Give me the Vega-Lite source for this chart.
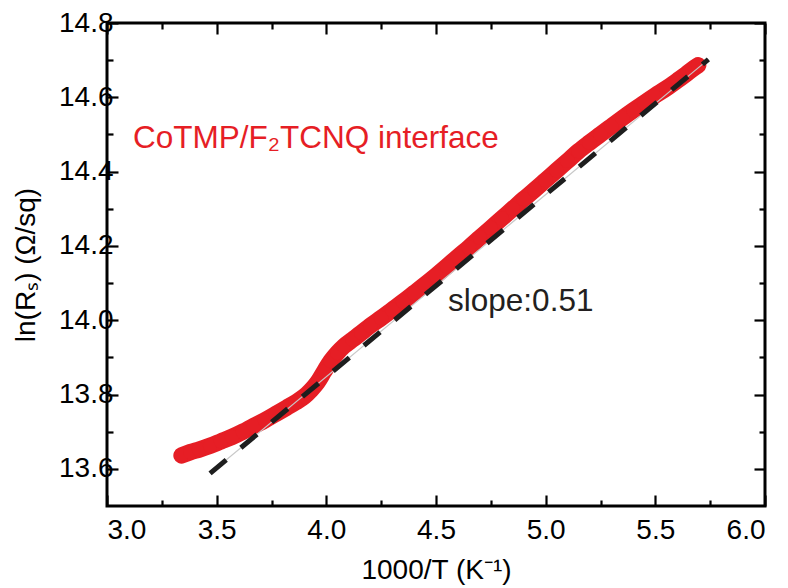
{
  "$schema": "https://vega.github.io/schema/vega-lite/v6.json",
  "width": 658,
  "height": 483,
  "autosize": {"type": "none"},
  "padding": {"left": 107, "top": 23, "right": 23, "bottom": 82},
  "background": "white",
  "config": {
    "view": {"stroke": "black", "strokeWidth": 3},
    "style": {"guide-label": {"fontSize": 22, "font": "Liberation Sans", "fill": "black"}, "guide-title": {"fontSize": 28, "font": "Liberation Sans", "fill": "black"}},
    "axis": {
      "domain": false,
      "grid": false,
      "tickColor": "black",
      "tickWidth": 2.2,
      "labelFont": "Liberation Sans",
      "labelFontSize": 22,
      "labelColor": "black",
      "titleFont": "Liberation Sans",
      "titleFontSize": 28,
      "titleFontWeight": "normal",
      "titleColor": "black"
    }
  },
  "datasets": {
    "curve": [
      {"x": 3.34, "y": 13.636}, {"x": 3.38, "y": 13.645}, {"x": 3.42, "y": 13.652},
      {"x": 3.47, "y": 13.662}, {"x": 3.52, "y": 13.674}, {"x": 3.57, "y": 13.686},
      {"x": 3.62, "y": 13.700}, {"x": 3.67, "y": 13.716}, {"x": 3.72, "y": 13.731},
      {"x": 3.77, "y": 13.748}, {"x": 3.82, "y": 13.765}, {"x": 3.86, "y": 13.779},
      {"x": 3.90, "y": 13.795}, {"x": 3.93, "y": 13.812}, {"x": 3.96, "y": 13.833},
      {"x": 3.99, "y": 13.862}, {"x": 4.02, "y": 13.890}, {"x": 4.05, "y": 13.912},
      {"x": 4.08, "y": 13.930}, {"x": 4.12, "y": 13.948}, {"x": 4.16, "y": 13.966},
      {"x": 4.20, "y": 13.985}, {"x": 4.25, "y": 14.006}, {"x": 4.30, "y": 14.028},
      {"x": 4.35, "y": 14.050}, {"x": 4.40, "y": 14.073}, {"x": 4.45, "y": 14.096},
      {"x": 4.50, "y": 14.120}, {"x": 4.55, "y": 14.145}, {"x": 4.60, "y": 14.171},
      {"x": 4.65, "y": 14.196}, {"x": 4.70, "y": 14.222}, {"x": 4.75, "y": 14.248},
      {"x": 4.80, "y": 14.274}, {"x": 4.85, "y": 14.300}, {"x": 4.90, "y": 14.326},
      {"x": 4.95, "y": 14.351}, {"x": 5.00, "y": 14.377}, {"x": 5.05, "y": 14.403},
      {"x": 5.10, "y": 14.429}, {"x": 5.15, "y": 14.455}, {"x": 5.20, "y": 14.478},
      {"x": 5.25, "y": 14.500}, {"x": 5.30, "y": 14.522}, {"x": 5.35, "y": 14.544},
      {"x": 5.40, "y": 14.565}, {"x": 5.45, "y": 14.585}, {"x": 5.50, "y": 14.605},
      {"x": 5.55, "y": 14.624}, {"x": 5.60, "y": 14.645}, {"x": 5.64, "y": 14.662},
      {"x": 5.67, "y": 14.676}, {"x": 5.695, "y": 14.686}
    ],
    "fit": [
      {"x": 3.47, "y": 13.588},
      {"x": 5.742, "y": 14.702}
    ]
  },
  "layer": [
    {
      "data": {"name": "curve"},
      "mark": {"type": "line", "color": "#e61e25", "strokeWidth": 16.5, "strokeCap": "round", "strokeJoin": "round", "interpolate": "monotone"},
      "encoding": {
        "x": {"field": "x", "type": "quantitative",
              "scale": {"domain": [3, 6], "nice": false, "zero": false},
              "axis": {"orient": "bottom", "values": [3, 3.5, 4, 4.5, 5, 5.5, 6], "format": ".1f", "tickSize": -11, "labelPadding": 21, "labelFontSize": 28, "labelFont": "Liberation Sans", "title": "1000/T (K⁻¹)", "titleFontSize": 28, "titlePadding": 12}},
        "y": {"field": "y", "type": "quantitative",
              "scale": {"domain": [13.5, 14.8], "nice": false, "zero": false},
              "axis": {"orient": "left", "values": [13.6, 13.8, 14.0, 14.2, 14.4, 14.6, 14.8], "format": ".1f", "tickSize": -11, "labelPadding": 5, "labelFontSize": 28, "labelFont": "Liberation Sans", "title": "ln(Rₛ) (Ω/sq)", "titleFontSize": 28, "titlePadding": 18}}
      }
    },
    {
      "data": {"name": "curve"},
      "mark": {"type": "circle", "color": "#e61e25", "size": 210, "opacity": 1},
      "encoding": {
        "x": {"field": "x", "type": "quantitative", "axis": null},
        "y": {"field": "y", "type": "quantitative", "axis": null}
      }
    },
    {
      "data": {"name": "fit"},
      "mark": {"type": "line", "color": "#c8c8c8", "strokeWidth": 1.2},
      "encoding": {
        "x": {"field": "x", "type": "quantitative",
              "axis": {"orient": "top", "values": [3, 3.5, 4, 4.5, 5, 5.5, 6], "tickSize": -11, "labels": false, "title": null}},
        "y": {"field": "y", "type": "quantitative",
              "axis": {"orient": "right", "values": [13.6, 13.8, 14.0, 14.2, 14.4, 14.6, 14.8], "tickSize": -11, "labels": false, "title": null}}
      }
    },
    {
      "data": {"name": "fit"},
      "mark": {"type": "line", "color": "#1e1e1e", "strokeWidth": 5, "strokeDash": [21, 19]},
      "encoding": {
        "x": {"field": "x", "type": "quantitative",
              "axis": {"orient": "bottom", "values": [3.25, 3.75, 4.25, 4.75, 5.25, 5.75], "tickSize": -6, "labels": false, "title": null}},
        "y": {"field": "y", "type": "quantitative",
              "axis": {"orient": "left", "values": [13.7, 13.9, 14.1, 14.3, 14.5, 14.7], "tickSize": -6, "labels": false, "title": null}}
      }
    },
    {
      "data": {"values": [{"label": "CoTMP/F₂TCNQ interface", "x": 3.119, "y": 14.464}]},
      "mark": {"type": "text", "align": "left", "baseline": "alphabetic", "font": "Liberation Sans", "fontSize": 31.5, "color": "#e61e25"},
      "encoding": {
        "x": {"field": "x", "type": "quantitative",
              "axis": {"orient": "top", "values": [3.25, 3.75, 4.25, 4.75, 5.25, 5.75], "tickSize": -6, "labels": false, "title": null}},
        "y": {"field": "y", "type": "quantitative",
              "axis": {"orient": "right", "values": [13.7, 13.9, 14.1, 14.3, 14.5, 14.7], "tickSize": -6, "labels": false, "title": null}},
        "text": {"field": "label"}
      }
    },
    {
      "data": {"values": [{"label": "slope:0.51", "x": 4.555, "y": 14.026}]},
      "mark": {"type": "text", "align": "left", "baseline": "alphabetic", "font": "Liberation Sans", "fontSize": 31.5, "color": "#231f20"},
      "encoding": {
        "x": {"field": "x", "type": "quantitative", "axis": null},
        "y": {"field": "y", "type": "quantitative", "axis": null},
        "text": {"field": "label"}
      }
    }
  ],
  "resolve": {"axis": {"x": "independent", "y": "independent"}}
}
